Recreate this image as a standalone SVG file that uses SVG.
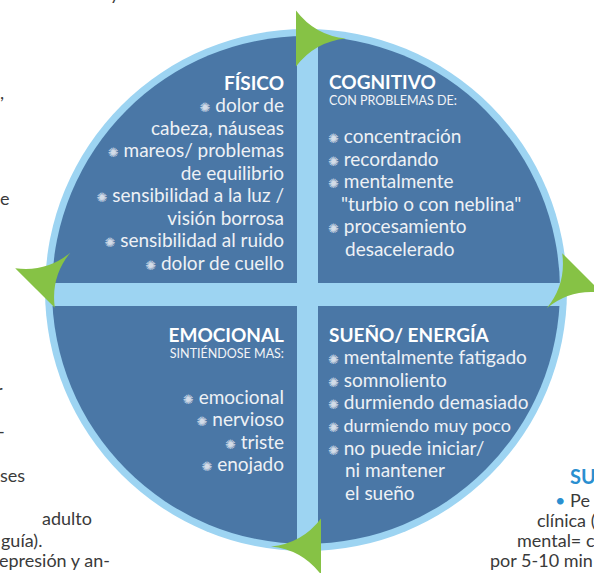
<svg xmlns="http://www.w3.org/2000/svg" width="594" height="573" viewBox="0 0 594 573">
<style>
.bg{font-family:Lato,"Liberation Sans",sans-serif;font-size:18px;fill:#3a3a3a}
.ttl{font-family:Lato,"Liberation Sans",sans-serif;font-size:19px;font-weight:bold;fill:#ffffff}
.sub{font-family:Lato,"Liberation Sans",sans-serif;font-size:12.5px;fill:#f2f4f7}
.txt{font-family:Lato,"Liberation Sans",sans-serif;font-size:19px;fill:#eef1f5}
.end{text-anchor:end}
.b{font-family:"DejaVu Sans",sans-serif;font-size:13px;fill:#d3dce8}
.dark{fill:#4a77a6}
.arrow{fill:#86c245}
</style>
<defs>
<clipPath id="inner"><circle cx="306" cy="290" r="254"/></clipPath>
<path id="arr" d="M0,-28 Q19,-3 50,0 Q19,3 0,28 Z"/>
</defs>

<g id="page-text">
<text class="bg" x="110" y="0">y</text>
<text class="bg" x="0" y="99">,</text>
<text class="bg" x="0" y="205">e</text>
<text class="bg" x="-4" y="397">r</text>
<text class="bg" x="-2" y="438">-</text>
<text class="bg" x="0" y="482">ses</text>
<text class="bg" x="42" y="525">adulto</text>
<text class="bg" x="1" y="547">guía).</text>
<text class="bg" x="-1" y="567">epresión y an-</text>
<text x="570" y="484" style="font-family:Lato,'Liberation Sans',sans-serif;font-size:20px;font-weight:bold;fill:#2a8fd0">SU</text>
<text class="bg" x="555" y="507"><tspan style="fill:#2a8fd0">•</tspan> Pe</text>
<text class="bg" x="537" y="527">clínica (</text>
<text class="bg" x="517" y="547">mental= c</text>
<text class="bg" x="490" y="567">por 5-10 min</text>
</g>

<g id="wheel">
<circle cx="306" cy="290" r="261" fill="#9dd4f2"/>
<g clip-path="url(#inner)">
<rect class="dark" x="40" y="20" width="257" height="263"/>
<rect class="dark" x="318" y="20" width="260" height="263"/>
<rect class="dark" x="40" y="306" width="257" height="260"/>
<rect class="dark" x="318" y="306" width="260" height="260"/>
</g>
</g>

<g id="fisico">
<text class="ttl end" x="284" y="90">FÍSICO</text>
<text class="txt end" x="284" y="112"><tspan class="b">✺</tspan> dolor de</text>
<text class="txt end" x="284" y="135">cabeza, náuseas</text>
<text class="txt end" x="284" y="157"><tspan class="b">✺</tspan> mareos/ problemas</text>
<text class="txt end" x="284" y="180">de equilibrio</text>
<text class="txt end" x="284" y="202"><tspan class="b">✺</tspan>  sensibilidad a la luz /</text>
<text class="txt end" x="284" y="225">visión borrosa</text>
<text class="txt end" x="284" y="247"><tspan class="b">✺</tspan> sensibilidad al ruido</text>
<text class="txt end" x="284" y="270"><tspan class="b">✺</tspan> dolor de cuello</text>
</g>

<g id="cognitivo">
<text class="ttl" x="329" y="89">COGNITIVO</text>
<text class="sub" x="329" y="105">CON PROBLEMAS DE:</text>
<text class="txt" x="328" y="143"><tspan class="b">✺</tspan> concentración</text>
<text class="txt" x="328" y="166"><tspan class="b">✺</tspan> recordando</text>
<text class="txt" x="328" y="188"><tspan class="b">✺</tspan> mentalmente</text>
<text class="txt" x="341" y="211">"turbio o con neblina"</text>
<text class="txt" x="328" y="233"><tspan class="b">✺</tspan> procesamiento</text>
<text class="txt" x="345" y="256">desacelerado</text>
</g>

<g id="emocional">
<text class="ttl end" x="284" y="342">EMOCIONAL</text>
<text class="sub end" x="284" y="358">SINTIÉNDOSE MAS:</text>
<text class="txt end" x="284" y="404"><tspan class="b">✺</tspan> emocional</text>
<text class="txt end" x="284" y="426"><tspan class="b">✺</tspan> nervioso</text>
<text class="txt end" x="284" y="449"><tspan class="b">✺</tspan> triste</text>
<text class="txt end" x="284" y="471"><tspan class="b">✺</tspan> enojado</text>
</g>

<g id="sueno">
<text class="ttl" x="329" y="342">SUEÑO/ ENERGÍA</text>
<text class="txt" x="328" y="364"><tspan class="b">✺</tspan> mentalmente fatigado</text>
<text class="txt" x="328" y="387"><tspan class="b">✺</tspan> somnoliento</text>
<text class="txt" x="328" y="409"><tspan class="b">✺</tspan> durmiendo demasiado</text>
<text class="txt" x="328" y="432" style="font-size:18px"><tspan class="b">✺</tspan> durmiendo muy poco</text>
<text class="txt" x="328" y="455"><tspan class="b">✺</tspan> no puede iniciar/</text>
<text class="txt" x="345" y="477">ni mantener</text>
<text class="txt" x="345" y="500">el sueño</text>
</g>

<g id="connectors">
<use href="#arr" class="arrow" transform="translate(296,38.5)"/>
<use href="#arr" class="arrow" transform="translate(582,273) rotate(135)"/>
<use href="#arr" class="arrow" transform="translate(321,546.5) rotate(180)"/>
<use href="#arr" class="arrow" transform="translate(35,288) rotate(-45)"/>
</g>
</svg>
